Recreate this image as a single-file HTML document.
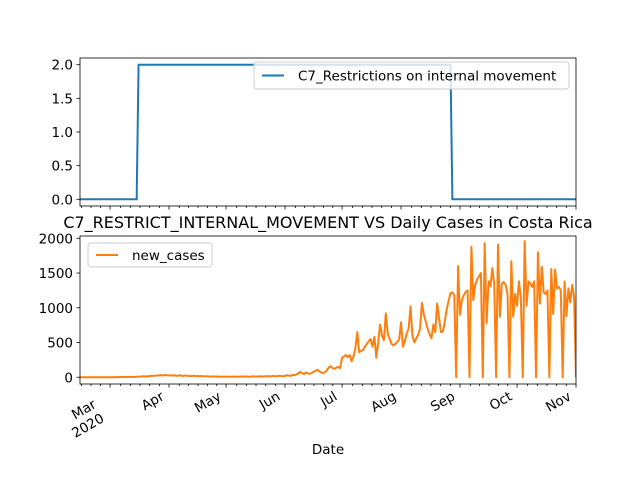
<!DOCTYPE html>
<html><head><meta charset="utf-8"><style>
body{margin:0;background:#fff;}
svg{display:block;font-family:"DejaVu Sans","Liberation Sans",sans-serif;}
</style></head><body>
<svg id="chart" width="640" height="480" viewBox="0 0 640 480" xmlns="http://www.w3.org/2000/svg">
<rect x="0" y="0" width="640" height="480" fill="#fff"/>
<g id="top"></g>
<g id="bot"></g>
<text x="328" y="228" font-size="16" text-anchor="middle" fill="#000">C7_RESTRICT_INTERNAL_MOVEMENT VS Daily Cases in Costa Rica</text>
<text x="328" y="454" font-size="13.5" text-anchor="middle" fill="#000">Date</text>
</svg>
<script>
// day index 0 = 2020-03-01
const firstDay = -16;
const policyChangeDays = [-16, 15, 180];
const policyLevels = [0, 2, 0];
const newCases = [
0,0,0,0,0,0,0,0,0,0,0,0,0,0,0,0,
0,1,1,2,3,2,4,3,6,5,4,4,3,6,
8,7,10,12,14,11,15,18,22,20,24,25,30,28,26,35,30,
25,30,22,28,20,25,30,18,22,26,20,18,16,24,15,20,12,18,14,10,16,12,8,14,10,12,8,10,6,12,
8,6,10,5,12,8,10,6,14,8,12,10,6,8,14,10,12,8,16,10,14,12,18,10,15,20,12,16,22,18,14,
20,30,25,18,35,28,40,55,77,60,45,70,55,50,60,80,90,110,85,70,60,75,100,140,160,130,120,140,150,130,
280,300,320,290,320,230,300,420,650,360,380,390,440,480,520,550,440,580,280,500,760,600,530,920,630,550,480,460,480,510,540,
790,440,520,630,700,1020,600,500,560,610,700,1070,900,800,700,620,560,760,650,1060,850,650,656,800,970,1100,1210,1220,1180,0,1600,
900,1110,1180,1230,1250,0,1880,1110,1330,1410,1450,1500,0,1930,780,1380,1310,1570,1350,0,1910,870,1350,1370,1330,1200,0,1670,870,1200,
1030,1380,1150,0,1960,1030,1380,1350,1300,1380,0,1800,1060,1590,1220,1200,1250,0,1560,910,1550,1280,1300,1250,0,1380,880,1280,1080,1330,1160,0
];
const monthLabels = ["Mar","Apr","May","Jun","Jul","Aug","Sep","Oct","Nov"];
const monthStartDays = [0,31,61,92,122,153,184,214,245];
const topTicks = [0,0.5,1,1.5,2];
const topTickLabels = ["0.0","0.5","1.0","1.5","2.0"];
const botTicks = [0,500,1000,1500,2000];
const botTickLabels = ["0","500","1000","1500","2000"];

const NS="http://www.w3.org/2000/svg";
const L=80,R=576;
const dMin=-15.8,dMax=245;
const x=d=>L+(d-dMin)/(dMax-dMin)*(R-L);
const T={top:58,bot:206,min:-0.1,max:2.1};
const B={top:236,bot:384,min:-97,max:2033};
const yT=v=>T.bot-(v-T.min)/(T.max-T.min)*(T.bot-T.top);
const yB=v=>B.bot-(v-B.min)/(B.max-B.min)*(B.bot-B.top);
function mk(p,tag,attrs){const e=document.createElementNS(NS,tag);for(const k in attrs)e.setAttribute(k,attrs[k]);p.appendChild(e);return e;}

function axes(g,P,ticks,labels,yf,isBottom){
  for(let m=0;m<monthStartDays.length;m++){
    for(const off of [-25,-20,-15,-10,-5]){
      const d=monthStartDays[m]+off*(m>0?(monthStartDays[m]-monthStartDays[m-1])/30.5:1);
      if(d<dMin) continue;
      const t=mk(g,'line',{x1:x(d),x2:x(d),y1:P.bot,y2:P.bot+2,stroke:'#000','stroke-width':0.8});
      
      
    }
  }
  monthStartDays.forEach((d,i)=>{
    const t=mk(g,'line',{x1:x(d),x2:x(d),y1:P.bot,y2:P.bot+3.5,stroke:'#000','stroke-width':0.8});
    
    
    if(isBottom){
      let tx;
      if(i===0){
        tx=mk(g,'text',{transform:`translate(${x(d)-13},${P.bot+23}) rotate(-30)`,'font-size':13.5,'text-anchor':'end',fill:'#000'});
        const t2=mk(g,'text',{transform:`translate(${x(d)-5},${P.bot+37}) rotate(-30)`,'font-size':13.5,'text-anchor':'end',fill:'#000'});
        
        
        t2.textContent='2020';
      } else {
        tx=mk(g,'text',{transform:`translate(${x(d)-4},${P.bot+15}) rotate(-30)`,'font-size':13.5,'text-anchor':'end',fill:'#000'});
      }
      
      
      tx.textContent=monthLabels[i];
    }
  });
  ticks.forEach((v,i)=>{
    const yy=yf(v);
    const t=mk(g,'line',{x1:L-3.5,x2:L,y1:yy,y2:yy,stroke:'#000','stroke-width':0.8});
    
    
    const tx=mk(g,'text',{x:L-7,y:yy+5,'font-size':13.5,'text-anchor':'end',fill:'#000'});
    
    
    tx.textContent=labels[i];
  });
}

const gT=document.getElementById('top'), gB=document.getElementById('bot');
let pts=[];
for(let i=0;i<newCases.length;i++){
  const d=firstDay+i;
  let lvl=policyLevels[0];
  for(let k=0;k<policyChangeDays.length;k++) if(d>=policyChangeDays[k]) lvl=policyLevels[k];
  pts.push(x(d).toFixed(2)+','+yT(lvl).toFixed(2));
}
const cp=mk(gT,'clipPath',{id:'cT'});mk(cp,'rect',{x:L,y:T.top,width:R-L,height:T.bot-T.top});
const pl=mk(gT,'polyline',{points:pts.join(' '),fill:'none',stroke:'#1f77b4','stroke-width':2,'clip-path':'url(#cT)'});


const fT=mk(gT,'rect',{x:L,y:T.top,width:R-L,height:T.bot-T.top,fill:'none',stroke:'#000','stroke-width':0.8});


axes(gT,T,topTicks,topTickLabels,yT,false);

pts=newCases.map((v,i)=>x(firstDay+i).toFixed(2)+','+yB(v).toFixed(2));
const cb=mk(gB,'clipPath',{id:'cB'});mk(cb,'rect',{x:L,y:B.top,width:R-L,height:B.bot-B.top});
const cl=mk(gB,'polyline',{points:pts.join(' '),fill:'none',stroke:'#ff7f0e','stroke-width':2,'stroke-linejoin':'round','clip-path':'url(#cB)'});


const fB=mk(gB,'rect',{x:L,y:B.top,width:R-L,height:B.bot-B.top,fill:'none',stroke:'#000','stroke-width':0.8});


axes(gB,B,botTicks,botTickLabels,yB,true);

function legend(g,x0,y0,w,h,color,label,name){
  const lg=mk(g,'g',{});
  
  
  mk(lg,'rect',{x:x0,y:y0,width:w,height:h,rx:3,fill:'#fff','fill-opacity':0.8,stroke:'#ccc','stroke-width':1});
  mk(lg,'line',{x1:x0+8,x2:x0+30,y1:y0+h/2,y2:y0+h/2,stroke:color,'stroke-width':2});
  const t=mk(lg,'text',{x:x0+44,y:y0+h/2+5,'font-size':13.5,fill:'#000'});
  t.textContent=label;
}
legend(gT,254,62,315,27,'#1f77b4','C7_Restrictions on internal movement','top-legend');
legend(gB,88,243,124,24,'#ff7f0e','new_cases','bottom-legend');
</script>
</body></html>
